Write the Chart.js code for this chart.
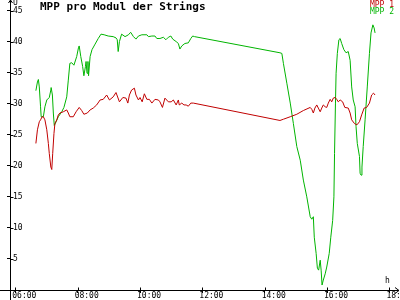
<!DOCTYPE html>
<html>
<head>
<meta charset="utf-8">
<script src="https://cdn.jsdelivr.net/npm/chart.js@4"></script>
<style>
  body { margin: 0; background: #fff; }
  #wrap { position: relative; width: 400px; height: 300px; }
  .txt { position: absolute; font-family: "DejaVu Sans Mono", monospace; line-height: 1; white-space: pre; }
  #title { left: 40px; top: 1px; font-size: 11px; font-weight: bold; color: #000; }
  #leg1 { right: 6px; top: 1px; font-size: 8px; color: #c00000; }
  #leg2 { right: 6px; top: 8px; font-size: 8px; color: #00b400; }
  #unitU { left: 13px; top: -1px; font-size: 8px; color: #000; }
  #unitH { left: 385px; top: 277px; font-size: 8px; color: #000; }
</style>
</head>
<body>
<div id="wrap">
  <canvas id="mppChart" width="400" height="300"></canvas>
  <div class="txt" id="title">MPP pro Modul der Strings</div>
  <div class="txt" id="leg1">MPP 1</div>
  <div class="txt" id="leg2">MPP 2</div>
  <div class="txt" id="unitU">U</div>
  <div class="txt" id="unitH">h</div>
</div>
<script>
/* Data (time in decimal hours, voltage in V) */
const times_mpp1 = [6.66,6.71,6.77,6.81,6.86,6.90,6.95,7.01,7.06,7.09,
  7.14,7.17,7.20,7.24,7.27,7.33,7.38,7.43,7.54,7.65,
  7.70,7.75,7.86,7.95,8.05,8.13,8.20,8.31,8.40,8.50,
  8.61,8.72,8.82,8.93,9.02,9.14,9.23,9.34,9.45,9.55,
  9.61,9.66,9.73,9.82,9.87,9.95,10.00,10.07,10.14,10.22,
  10.30,10.38,10.48,10.59,10.64,10.72,10.80,10.91,11.00,11.07,
  11.16,11.23,11.26,11.34,11.41,11.48,11.55,11.63,11.71,
  14.49,14.60,14.82,15.03,15.24,15.46,15.51,15.56,15.61,15.67,
  15.72,15.78,15.83,15.88,15.94,15.99,16.04,16.10,16.15,16.20,
  16.26,16.31,16.36,16.42,16.50,16.57,16.68,16.74,16.79,16.88,
  16.96,17.04,17.11,17.19,17.27,17.36,17.43,17.49,17.54];
const values_mpp1 = [23.6,25.8,27.1,27.4,27.9,27.9,27.4,25.8,23.6,22.0,
  19.8,19.4,22.0,25.2,26.8,27.4,28.2,28.5,28.7,29.0,
  28.5,27.9,27.9,28.7,29.4,28.9,28.3,28.5,29.0,29.3,
  29.8,30.6,30.7,31.4,30.6,31.1,31.8,30.3,31.0,30.9,
  30.1,31.4,32.2,32.5,31.4,30.6,31.0,30.3,31.6,30.7,
  30.7,30.1,30.7,30.6,30.3,29.4,30.9,30.3,30.3,30.6,
  29.8,30.6,29.8,30.1,29.8,29.8,29.6,30.1,30.1,
  27.3,27.5,27.9,28.3,28.9,29.4,29.1,28.5,29.3,29.8,
  29.3,28.7,29.3,29.8,29.5,29.4,30.1,30.7,30.3,30.9,
  31.0,30.7,30.3,30.6,30.3,29.4,29.3,28.5,27.4,26.8,
  26.6,27.1,28.2,29.3,29.4,30.1,31.4,31.7,31.4];

const times_mpp2 = [6.66,6.71,6.74,6.77,6.81,6.83,6.90,6.95,7.01,7.09,
  7.14,7.15,7.19,7.22,7.25,7.31,7.38,7.49,7.56,7.65,
  7.70,7.75,7.81,7.88,7.97,8.03,8.05,8.10,8.16,8.20,
  8.25,8.27,8.30,8.33,8.35,8.40,8.46,8.56,8.66,8.75,
  8.85,8.98,9.14,9.23,9.27,9.30,9.34,9.41,9.52,9.63,
  9.70,9.79,9.87,9.95,10.06,10.22,10.27,10.38,10.48,10.54,
  10.64,10.75,10.83,10.91,10.99,11.05,11.16,11.23,11.28,11.34,
  11.44,11.55,11.63,11.69,11.75,
  14.49,14.55,14.60,14.71,14.82,14.92,15.03,15.14,15.24,15.35,
  15.46,15.51,15.56,15.59,15.65,15.69,15.73,15.78,15.81,15.84,
  15.88,15.94,15.99,16.07,16.12,16.18,16.22,16.24,16.27,16.29,
  16.33,16.38,16.42,16.47,16.54,16.61,16.68,16.74,16.79,16.84,
  16.90,16.93,16.97,17.04,17.06,17.09,17.12,17.16,17.22,17.29,
  17.36,17.41,17.47,17.51,17.54];
const values_mpp2 = [32.1,33.5,33.9,32.7,29.5,27.9,27.9,29.5,30.6,31.0,
  32.2,32.6,31.4,28.5,26.5,27.1,27.9,28.7,29.4,31.1,
  33.8,36.5,36.6,36.2,37.6,39.1,39.3,37.6,36.0,34.5,
  36.0,36.8,34.9,36.8,34.5,37.6,38.7,39.6,40.5,41.2,
  41.1,40.9,40.8,40.6,40.3,38.4,40.0,41.2,40.8,41.1,
  41.5,40.8,40.4,40.9,41.1,41.1,40.8,40.9,40.9,40.5,
  40.5,40.7,40.3,40.7,40.9,40.4,40.0,39.7,38.8,39.3,
  39.7,39.8,40.5,40.9,40.8,
  38.2,38.1,36.5,33.3,30.1,26.8,23.1,20.9,17.7,15.0,
  11.8,11.4,11.8,8.5,5.9,3.5,3.2,4.8,3.2,0.8,
  1.6,2.6,3.7,5.9,8.5,11.2,15.0,22.0,30.1,34.9,
  38.1,40.3,40.5,39.7,38.7,38.2,38.4,37.0,32.7,30.6,
  29.5,26.3,23.6,21.5,18.8,18.5,19.8,23.1,27.4,32.7,
  38.1,41.4,42.7,42.2,41.4];

// Tick positions and labels
const x_tick_values = [6, 8, 10, 12, 14, 16, 18];
const x_tick_labels = ['06:00', '08:00', '10:00', '12:00', '14:00', '16:00', '18:00'];
const y_tick_values = [5, 10, 15, 20, 25, 30, 35, 40, 45];

const red = '#c00000';
const green = '#00b400';
const tickFont = { family: 'DejaVu Sans Mono', size: 8, lineHeight: 0.8 };

function toPoints(times, values) {
  return times.map((t, i) => ({ x: t, y: values[i] }));
}

// Axis lines, arrows and the inner half of the tick marks
const axisPlugin = {
  id: 'axisPlugin',
  afterDraw(chart) {
    const c = chart.ctx;
    const area = chart.chartArea;
    const xs = chart.scales.x;
    const ys = chart.scales.y;
    const bx = Math.round(area.left) + 0.5;
    const by = Math.round(area.bottom) + 0.5;
    c.save();
    c.strokeStyle = '#000';
    c.lineWidth = 1;
    c.beginPath();
    // x axis with arrow
    c.moveTo(0, by); c.lineTo(399, by);
    c.moveTo(395, by - 3); c.lineTo(399, by); c.lineTo(395, by + 3);
    // y axis with arrow
    c.moveTo(bx, 300); c.lineTo(bx, 0);
    c.moveTo(bx - 2, 3); c.lineTo(bx, 0); c.lineTo(bx + 2, 3);
    // inner tick stubs
    xs.ticks.forEach((t, i) => {
      const px = Math.round(xs.getPixelForTick(i)) + 0.5;
      c.moveTo(px, by - 3); c.lineTo(px, by);
    });
    ys.ticks.forEach((t, i) => {
      const py = Math.round(ys.getPixelForTick(i)) + 0.5;
      c.moveTo(bx, py); c.lineTo(bx + 3, py);
    });
    c.stroke();
    c.restore();
  }
};

const ctxMpp = document.getElementById('mppChart').getContext('2d');

const mppChart = new Chart(ctxMpp, {
  type: 'line',
  data: {
    datasets: [{
      label: 'MPP 1',
      data: toPoints(times_mpp1, values_mpp1),
      borderColor: red,
      borderWidth: 1,
      pointRadius: 0,
      fill: false,
      tension: 0
    },
    {
      label: 'MPP 2',
      data: toPoints(times_mpp2, values_mpp2),
      borderColor: green,
      borderWidth: 1,
      pointRadius: 0,
      fill: false,
      tension: 0
    }]
  },
  options: {
    animation: false,
    responsive: false,
    devicePixelRatio: 1,
    layout: { padding: { left: 7, right: 0, top: 0, bottom: 0 } },
    plugins: {
      legend: { display: false },
      title: { display: false },
      tooltip: { enabled: false }
    },
    scales: {
      x: {
        type: 'linear',
        min: 5.83,
        max: 18.34,
        afterBuildTicks: (s) => { s.ticks = x_tick_values.map(v => ({ value: v })); },
        afterFit: (s) => { s.height = 10; s.paddingLeft = 0; s.paddingRight = 0; },
        ticks: {
          callback: (v) => x_tick_labels[x_tick_values.indexOf(v)],
          align: 'start',
          labelOffset: -3,
          padding: 0,
          maxRotation: 0,
          autoSkip: false,
          color: '#000',
          font: tickFont
        },
        grid: { drawOnChartArea: false, drawTicks: true, tickLength: 3, color: '#000' },
        border: { display: false }
      },
      y: {
        type: 'linear',
        min: 0,
        max: 46.7,
        afterBuildTicks: (s) => { s.ticks = y_tick_values.map(v => ({ value: v })); },
        afterFit: (s) => { s.width = 3; s.paddingTop = 0; s.paddingBottom = 0; },
        ticks: {
          mirror: true,
          padding: 3,
          color: '#000',
          font: tickFont
        },
        grid: { drawOnChartArea: false, drawTicks: true, tickLength: 3, color: '#000' },
        border: { display: false }
      }
    }
  },
  plugins: [axisPlugin]
});
</script>
</body>
</html>
